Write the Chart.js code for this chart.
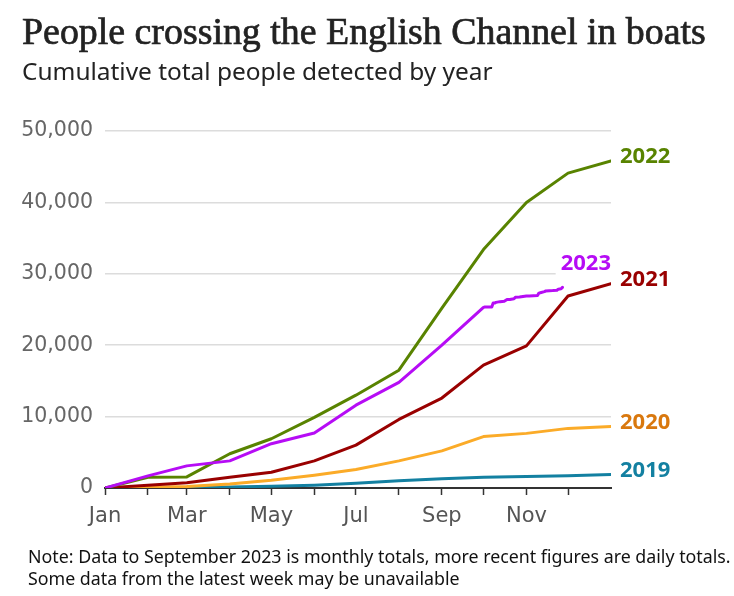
<!DOCTYPE html>
<html>
<head>
<meta charset="utf-8">
<script src="https://cdn.jsdelivr.net/npm/chart.js@4"></script>
<style>
  html, body { margin:0; padding:0; background:#fff; }
  #wrap { position:relative; width:734px; height:596px; overflow:hidden; }
  #c { position:absolute; left:0; top:0; }
  .t { position:absolute; white-space:nowrap; color:#222; }
  #title { left:22px; top:15px; font-family:"Liberation Serif", serif; font-weight:400; font-size:32px; line-height:32px; -webkit-text-stroke:0.7px #222; }
  #sub { left:22px; top:60px; font-family:"Noto Sans", sans-serif; font-size:22px; line-height:22px; }
  #note { left:28px; top:545px; font-family:"Noto Sans", sans-serif; font-size:15.5px; line-height:22px; color:#111; }
</style>
</head>
<body>
<div id="wrap">
  <canvas id="c" width="734" height="596"></canvas>
  <div class="t" id="title">People crossing the English Channel in boats</div>
  <div class="t" id="sub">Cumulative total people detected by year</div>
  <div class="t" id="note"><span id="n1">Note: Data to September 2023 is monthly totals, more recent figures are daily totals.</span><br><span>Some data from the latest week may be unavailable</span></div>
</div>
<script>
// ---- data ----
const monthStarts = [0, 31, 59, 90, 120, 151, 181, 212, 243, 273, 304, 334, 365];
const monthLabels = ['Jan','Feb','Mar','Apr','May','Jun','Jul','Aug','Sep','Oct','Nov','Dec'];
const yTicks = [0, 10000, 20000, 30000, 40000, 50000];

const values2019 = [0, 30, 70, 150, 250, 400, 650, 1000, 1300, 1500, 1600, 1700, 1900];
const values2020 = [0, 100, 200, 560, 1100, 1800, 2600, 3800, 5200, 7200, 7650, 8350, 8600];
const values2021 = [0, 400, 750, 1500, 2200, 3800, 6000, 9600, 12600, 17200, 19900, 26900, 28600];
const values2022 = [0, 1500, 1550, 4800, 6900, 9900, 13000, 16500, 25200, 33400, 40000, 44100, 45800];
const values2023Monthly = [0, 1700, 3100, 3800, 6200, 7700, 11600, 14800, 20000, 25300];
const days2023Daily = [274, 275, 279, 280, 281, 282, 285, 288, 290, 292, 295, 296, 299, 304, 306, 312, 313, 314, 317, 318, 323, 326, 327, 329, 330];
const values2023Daily = [25350, 25350, 25350, 25900, 25900, 26000, 26100, 26150, 26400, 26400, 26500, 26700, 26750, 26900, 26900, 26950, 27300, 27350, 27500, 27600, 27650, 27700, 27850, 27900, 28100];

const seriesNames = ['2023', '2022', '2021', '2020', '2019'];
const lineColors = ['#b60cf5', '#588300', '#990000', '#fbab28', '#1380a1'];
const labelColors = ['#b60cf5', '#588300', '#990000', '#d9780e', '#1380a1'];

// ---- build ----
const pts = (days, vals) => vals.map((v, i) => ({ x: days[i], y: v }));
const days2023 = monthStarts.slice(0, values2023Monthly.length).concat(days2023Daily);
const vals2023 = values2023Monthly.concat(values2023Daily);
const seriesData = [
  pts(days2023, vals2023),
  pts(monthStarts, values2022),
  pts(monthStarts, values2021),
  pts(monthStarts, values2020),
  pts(monthStarts, values2019)
];

const FONT = '"Noto Sans", sans-serif';
const AXFONT = '"DejaVu Sans", sans-serif';

const endLabels = {
  id: 'endLabels',
  afterDatasetsDraw(chart) {
    const ctx = chart.ctx;
    const area = chart.chartArea;
    ctx.save();
    ctx.font = 'bold 22px ' + FONT;
    ctx.textBaseline = 'middle';
    chart.data.datasets.forEach((ds, i) => {
      const meta = chart.getDatasetMeta(i);
      const last = meta.data[meta.data.length - 1];
      if (i === 0) {
        const txt = ds.label;
        const w = ctx.measureText(txt).width;
        const x = area.right - w;
        const y = last.y - 24;
        ctx.fillStyle = '#fff';
        ctx.fillRect(x - 5, y - 12, w + 8, 24);
        ctx.fillStyle = labelColors[i];
        ctx.textAlign = 'left';
        ctx.fillText(txt, x, y);
      } else {
        ctx.fillStyle = labelColors[i];
        ctx.textAlign = 'left';
        ctx.fillText(ds.label, last.x + 9, last.y - 4);
      }
    });
    ctx.restore();
  }
};

new Chart(document.getElementById('c'), {
  type: 'line',
  data: {
    datasets: seriesData.map((d, i) => ({
      label: seriesNames[i],
      data: d,
      borderColor: lineColors[i],
      backgroundColor: lineColors[i],
      borderWidth: 3,
      pointRadius: 0,
      tension: 0,
      borderJoinStyle: 'round',
      borderCapStyle: 'round',
      fill: false
    }))
  },
  options: {
    responsive: false,
    animation: false,
    events: [],
    layout: { padding: { top: 131, right: 123, bottom: 68, left: 0 } },
    plugins: { legend: { display: false }, tooltip: { enabled: false }, title: { display: false } },
    scales: {
      x: {
        type: 'linear',
        min: 0,
        max: 365,
        afterBuildTicks(axis) {
          axis.ticks = monthStarts.slice(0, 12).map(v => ({ value: v }));
        },
        afterFit(axis) { axis.height = 40; },
        ticks: {
          autoSkip: false,
          maxRotation: 0,
          padding: 9,
          color: '#555',
          font: { family: AXFONT, size: 21 },
          callback(value, index) { return index % 2 === 0 ? monthLabels[index] : ''; }
        },
        grid: { drawOnChartArea: false, drawTicks: true, tickLength: 7, color: '#333', tickWidth: 1.5 },
        border: { display: true, color: '#333', width: 2 }
      },
      y: {
        min: 0,
        max: 50000,
        afterBuildTicks(axis) {
          axis.ticks = yTicks.map(v => ({ value: v }));
        },
        afterFit(axis) { axis.width = 105; },
        ticks: {
          padding: 12,
          color: '#666',
          font: { family: AXFONT, size: 20.5 },
          callback(value) { return value.toLocaleString('en-US'); }
        },
        grid: { color: '#dcdcdc', lineWidth: 1.5, drawTicks: false },
        border: { display: false }
      }
    }
  },
  plugins: [endLabels]
});

// fit text widths
function fit(el, target, applyTo) {
  const w = el.getBoundingClientRect().width;
  const tgt = applyTo || el;
  const fs = parseFloat(getComputedStyle(tgt).fontSize);
  tgt.style.fontSize = (fs * target / w) + 'px';
}
fit(document.getElementById('title'), 684);
fit(document.getElementById('sub'), 471);
fit(document.getElementById('n1'), 703, document.getElementById('note'));
</script>
</body>
</html>
